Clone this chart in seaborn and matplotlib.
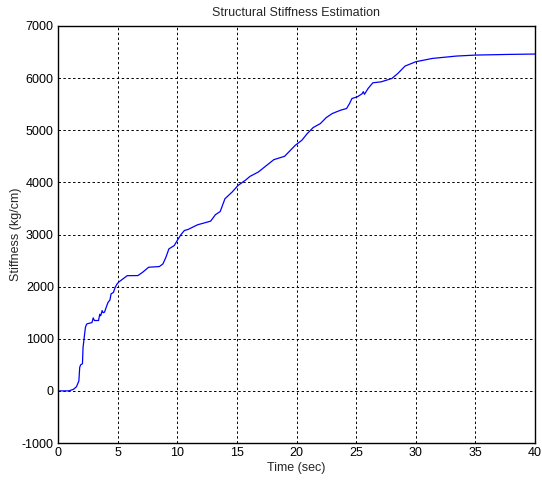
import matplotlib
matplotlib.use("Agg")
import matplotlib.pyplot as plt
import seaborn as sns
import pandas as pd

# Estimated structural stiffness over time
time_sec = [0.0, 0.9, 1.3, 1.55, 1.75, 1.82, 1.9, 2.05, 2.1, 2.2,
            2.3, 2.4, 2.5, 2.85, 2.95, 3.05, 3.15, 3.4, 3.5, 3.58,
            3.7, 3.78, 3.9, 4.1, 4.2, 4.35, 4.45, 4.65, 4.8, 4.95,
            5.1, 5.4, 5.8, 6.7, 7.1, 7.6, 8.5, 8.8, 9.05, 9.3,
            9.75, 10.0, 10.3, 10.6, 10.9, 11.7, 12.8, 13.2, 13.6, 14.0,
            14.6, 15.1, 15.7, 16.1, 16.8, 17.5, 18.1, 19.0, 19.9, 20.45,
            20.9, 21.4, 22.0, 22.5, 23.0, 23.7, 24.2, 24.45, 24.65, 25.1,
            25.5, 25.6, 25.7, 26.0, 26.4, 27.1, 28.0, 28.5, 29.1, 30.0,
            31.4, 33.4, 35.0, 37.8, 40.0]
stiffness = [0, 0, 30, 80, 190, 450, 500, 520, 830, 1030,
             1220, 1280, 1290, 1310, 1400, 1350, 1350, 1350, 1470, 1440,
             1540, 1500, 1510, 1640, 1700, 1740, 1860, 1890, 1990, 2050,
             2090, 2140, 2210, 2212, 2276, 2372, 2385, 2436, 2564, 2724,
             2788, 2885, 2995, 3077, 3096, 3186, 3256, 3380, 3440, 3686,
             3814, 3942, 4038, 4115, 4199, 4327, 4436, 4500, 4712, 4808,
             4936, 5052, 5128, 5244, 5321, 5385, 5417, 5513, 5609, 5641,
             5700, 5740, 5690, 5801, 5910, 5929, 5994, 6090, 6231, 6314,
             6378, 6423, 6442, 6455, 6462]

x_ticks = [0, 5, 10, 15, 20, 25, 30, 35, 40]
y_ticks = [-1000, 0, 1000, 2000, 3000, 4000, 5000, 6000, 7000]

df = pd.DataFrame({"t": time_sec, "k": stiffness})

sns.set_style("white")
plt.rcParams["font.family"] = ["Liberation Sans", "DejaVu Sans"]
plt.rcParams["font.size"] = 9

fig = plt.figure(figsize=(5.42, 4.8), dpi=100)
ax = fig.add_axes([58 / 542, 37 / 480, 477 / 542, 417 / 480])

sns.lineplot(data=df, x="t", y="k", ax=ax, color="#0000ff",
             linewidth=0.9, estimator=None, sort=False)

ax.set_xlim(0, 40)
ax.set_ylim(-1000, 7000)
ax.set_xticks(x_ticks)
ax.set_yticks(y_ticks)
ax.set_xticklabels([str(v) for v in x_ticks])
ax.set_yticklabels([str(v) for v in y_ticks])
ax.grid(True, color="black", linestyle=(0, (2.5, 2.5)), linewidth=0.7)
ax.tick_params(axis="both", direction="in", length=3, labelsize=9,
               colors="black", pad=3)
for s in ax.spines.values():
    s.set_color("black")
    s.set_linewidth(1.0)

ax.set_title("Structural Stiffness Estimation", fontsize=9, pad=7)
ax.set_xlabel("Time (sec)", fontsize=9, labelpad=2)
ax.set_ylabel("Stiffness (kg/cm)", fontsize=9, labelpad=0)

fig.savefig("out.png", dpi=100)
